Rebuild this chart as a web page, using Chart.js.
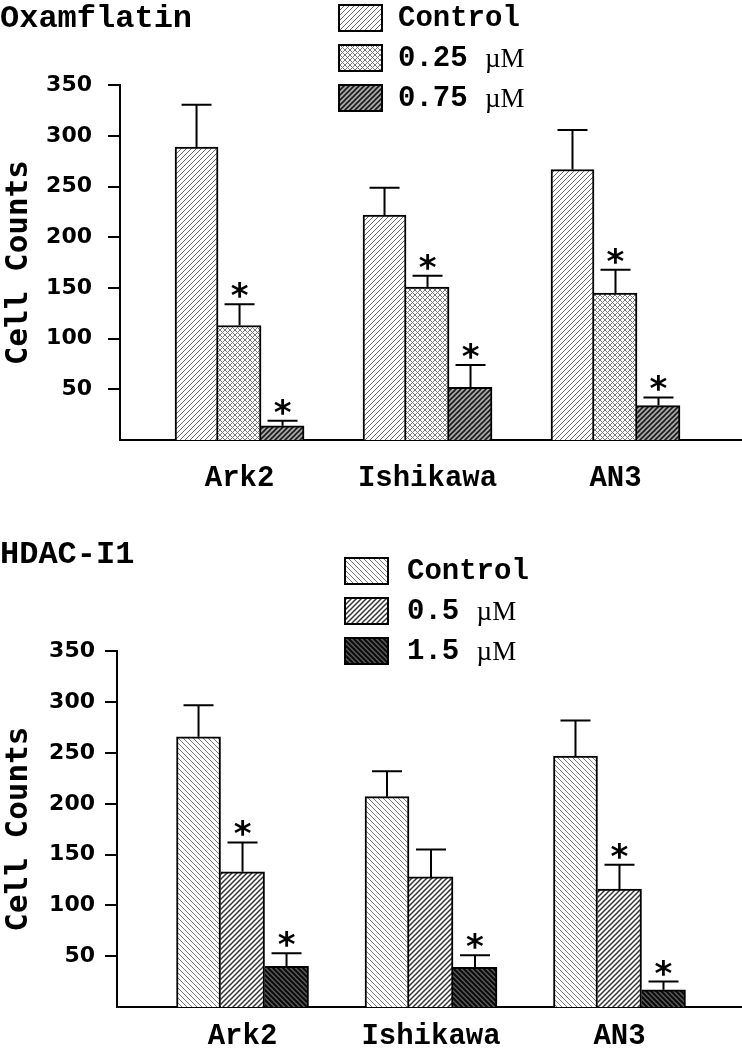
<!DOCTYPE html>
<html><head><meta charset="utf-8">
<script src="https://cdn.jsdelivr.net/npm/chart.js@4/dist/chart.umd.min.js"></script>
<style>
html,body{margin:0;padding:0;background:#fff;}
#wrap{width:742px;height:1050px;position:relative;overflow:hidden;}
.box{position:absolute;left:0;width:742px;}
#b1{top:0;height:505px;}
#b2{top:505px;height:545px;}
</style></head><body>
<div id="wrap"><div class="box" id="b1"><canvas id="c1"></canvas></div><div class="box" id="b2"><canvas id="c2"></canvas></div></div>
<script>
// ---------- data ----------
const categories = ['Ark2', 'Ishikawa', 'AN3'];
const yTickValues = [50, 100, 150, 200, 250, 300, 350];

// Oxamflatin panel
const oxaTitle = 'Oxamflatin';
const oxaLabels = ['Control', '0.25 µM', '0.75 µM'];
const oxaControl = [289, 222, 267];
const oxaLow = [113, 151, 145];
const oxaHigh = [14, 52, 34];
const oxaControlErr = [42, 27, 39];
const oxaLowErr = [21, 11, 23];
const oxaHighErr = [5, 22, 8];
const oxaControlSig = [false, false, false];
const oxaLowSig = [true, true, true];
const oxaHighSig = [true, true, true];

// HDAC-I1 panel
const hdacTitle = 'HDAC-I1';
const hdacLabels = ['Control', '0.5 µM', '1.5 µM'];
const hdacControl = [266, 207, 247];
const hdacLow = [133, 128, 116];
const hdacHigh = [40, 39, 17];
const hdacControlErr = [31, 25, 35];
const hdacLowErr = [29, 27, 24];
const hdacHighErr = [13, 12, 8];
const hdacControlSig = [false, false, false];
const hdacLowSig = [true, false, true];
const hdacHighSig = [true, true, true];

// ---------- patterns ----------
function hatch(bg, fg, lw, size, up, down) {
  const c = document.createElement('canvas');
  c.width = c.height = size;
  const g = c.getContext('2d');
  g.fillStyle = bg; g.fillRect(0, 0, size, size);
  g.strokeStyle = fg; g.lineWidth = lw; g.lineCap = 'square';
  const L = (a, b, x, y) => { g.beginPath(); g.moveTo(a, b); g.lineTo(x, y); g.stroke(); };
  if (up) { L(0, size, size, 0); L(-size, size, size, -size); L(0, 2 * size, 2 * size, 0); }
  if (down) { L(0, 0, size, size); L(-size, 0, size, 2 * size); L(0, -size, 2 * size, size); }
  return g.createPattern(c, 'repeat');
}

// ---------- plugins ----------
const errorBars = {
  id: 'errorBars',
  afterDatasetsDraw(chart, args, opts) {
    const ctx = chart.ctx;
    const y = chart.scales.y;
    chart.data.datasets.forEach((ds, di) => {
      const meta = chart.getDatasetMeta(di);
      meta.data.forEach((bar, i) => {
        const v = ds.data[i].y;
        const e = ds.errors[i];
        const top = y.getPixelForValue(v + e);
        ctx.save();
        ctx.strokeStyle = '#000';
        ctx.lineWidth = 2;
        ctx.beginPath();
        ctx.moveTo(bar.x, bar.y);
        ctx.lineTo(bar.x, top);
        ctx.moveTo(bar.x - opts.cap / 2, top);
        ctx.lineTo(bar.x + opts.cap / 2, top);
        ctx.stroke();
        if (ds.sig[i]) {
          ctx.fillStyle = '#000';
          ctx.font = opts.starFont;
          ctx.textAlign = 'center';
          ctx.textBaseline = 'alphabetic';
          const m = ctx.measureText('*');
          ctx.fillText('*', bar.x, top - opts.starGap - m.actualBoundingBoxDescent);
        }
        ctx.restore();
      });
    });
  }
};

const patternLegend = {
  id: 'patternLegend',
  afterDraw(chart, args, o) {
    const ctx = chart.ctx;
    chart.data.datasets.forEach((ds, i) => {
      const y0 = o.y + i * o.gap;
      ctx.save();
      ctx.fillStyle = ds.backgroundColor;
      ctx.fillRect(o.x, y0, o.boxW, o.boxH);
      ctx.lineWidth = 2;
      ctx.strokeStyle = '#000';
      ctx.strokeRect(o.x + 1, y0 + 1, o.boxW - 2, o.boxH - 2);
      const cy = y0 + o.boxH / 2 + 1;
      ctx.fillStyle = '#000';
      ctx.textBaseline = 'middle';
      ctx.textAlign = 'left';
      const idx = ds.label.indexOf('µ');
      const head = idx >= 0 ? ds.label.slice(0, idx) : ds.label;
      const tail = idx >= 0 ? ds.label.slice(idx) : '';
      ctx.font = o.font;
      ctx.fillText(head, o.textX, cy);
      const w = ctx.measureText(head).width;
      if (tail) { ctx.font = o.unitFont; ctx.fillText(tail, o.textX + w, cy + 1); }
      ctx.restore();
    });
  }
};

// ---------- chart builder ----------
function build(canvasId, p) {
  const mk = (label, vals, errs, sig, fill, bw) => ({
    label, errors: errs, sig,
    data: vals.map((v, i) => ({ x: i + 1, y: v })),
    backgroundColor: fill, borderColor: '#000', borderWidth: bw,
    barThickness: p.barW, grouped: true
  });
  return new Chart(document.getElementById(canvasId), {
    type: 'bar',
    data: {
      datasets: [
        mk(p.labels[0], p.vals[0], p.errs[0], p.sigs[0], p.fills[0], { left: 2, right: 2, top: 2 }),
        mk(p.labels[1], p.vals[1], p.errs[1], p.sigs[1], p.fills[1], { left: 0, right: 2, top: 2 }),
        mk(p.labels[2], p.vals[2], p.errs[2], p.sigs[2], p.fills[2], { left: 0, right: 2, top: 2 })
      ]
    },
    plugins: [errorBars, patternLegend],
    options: {
      responsive: true, maintainAspectRatio: false, animation: false,
      layout: { padding: 0 },
      plugins: {
        legend: { display: false },
        tooltip: { enabled: false },
        title: {
          display: true, text: p.title, align: 'start', color: '#000',
          font: { family: 'Liberation Mono', weight: 'bold', size: 32 },
          padding: p.titlePad
        },
        errorBars: { cap: 30, starGap: 6, starFont: 'bold 34px "DejaVu Sans"' },
        patternLegend: Object.assign({
          boxW: 45, boxH: 28, gap: 40,
          font: 'bold 29px "Liberation Mono"', unitFont: '27px "Liberation Serif"'
        }, p.legend)
      },
      scales: {
        x: {
          type: 'linear', min: p.xMin, max: p.xMax, offset: false,
          afterBuildTicks: s => { s.ticks = categories.map((c, i) => ({ value: i + 1 })); },
          afterFit: s => { s.height = p.xH; },
          ticks: {
            callback: v => categories[v - 1], color: '#000', padding: p.xPad,
            maxRotation: 0, autoSkip: false,
            font: { family: 'Liberation Mono', weight: 'bold', size: 29 }
          },
          grid: { display: false },
          border: { display: true, color: '#000', width: 2 }
        },
        y: {
          min: 0, max: 350,
          afterBuildTicks: s => { s.ticks = yTickValues.map(v => ({ value: v })); },
          afterFit: s => { s.width = p.yW; },
          ticks: {
            color: '#000', padding: p.yPad,
            font: { family: 'DejaVu Sans', weight: 'bold', size: 22 }
          },
          grid: { drawOnChartArea: false, drawTicks: true, tickLength: 12, color: '#000', lineWidth: 2 },
          border: { display: true, color: '#000', width: 2 },
          title: {
            display: true, text: 'Cell Counts', color: '#000', padding: { top: 0, bottom: 0 },
            font: { family: 'DejaVu Sans Mono', weight: 'bold', size: 31 }
          }
        }
      }
    }
  });
}

build('c1', {
  title: oxaTitle, labels: oxaLabels,
  vals: [oxaControl, oxaLow, oxaHigh],
  errs: [oxaControlErr, oxaLowErr, oxaHighErr],
  sigs: [oxaControlSig, oxaLowSig, oxaHighSig],
  fills: [
    hatch('#ffffff', '#6a6a6a', 1, 5, true, false),
    hatch('#ffffff', '#7a7a7a', 1, 5, true, true),
    hatch('#a8a8a8', '#1a1a1a', 1.6, 5, true, false)
  ],
  barW: 43, xMin: 0.364, xMax: 3.673, xH: 65, xPad: 13, yW: 120, yPad: 16,
  titlePad: { top: 0, bottom: 47 },
  legend: { x: 338, y: 4, textX: 398 }
});

build('c2', {
  title: hdacTitle, labels: hdacLabels,
  vals: [hdacControl, hdacLow, hdacHigh],
  errs: [hdacControlErr, hdacLowErr, hdacHighErr],
  sigs: [hdacControlSig, hdacLowSig, hdacHighSig],
  fills: [
    hatch('#ffffff', '#7a7a7a', 1, 5, false, true),
    hatch('#ffffff', '#333333', 1.5, 5, true, false),
    hatch('#5a5a5a', '#0a0a0a', 2, 5, false, true)
  ],
  barW: 44, xMin: 0.334, xMax: 3.65, xH: 43, xPad: 4, yW: 117, yPad: 10,
  titlePad: { top: 31, bottom: 77 },
  legend: { x: 344, y: 52, textX: 407 }
});
</script>
</body></html>
